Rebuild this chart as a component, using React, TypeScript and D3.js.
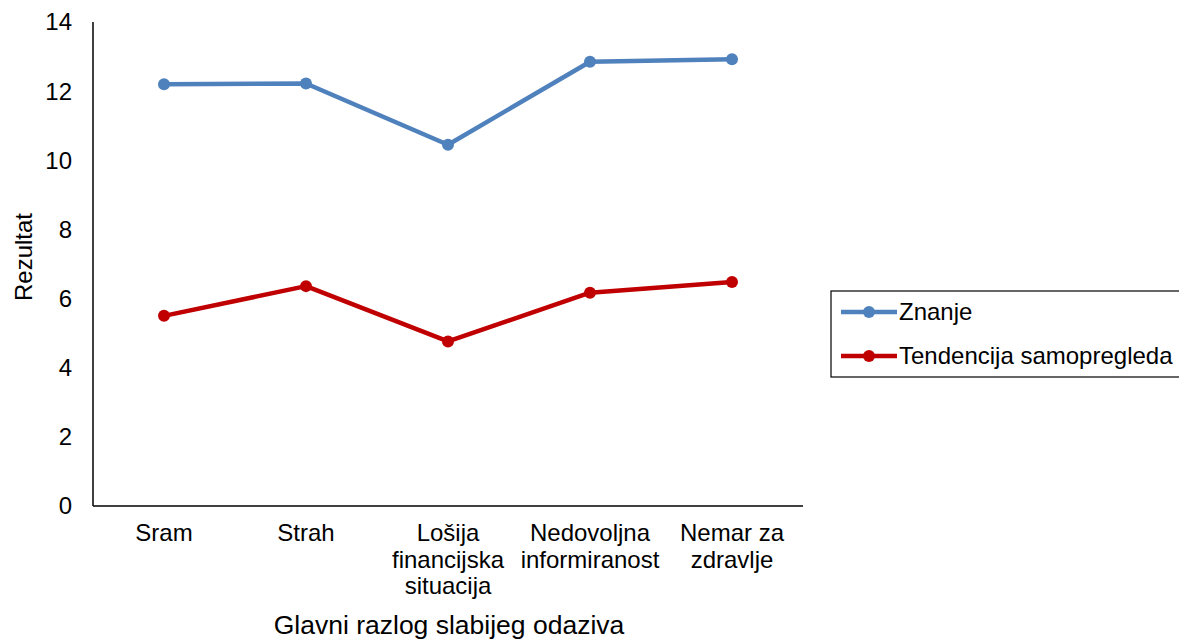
import { useEffect, useRef } from 'react';
import * as d3 from 'd3';

// chart data
const categories = ['Sram', 'Strah', 'Lošija financijska situacija', 'Nedovoljna informiranost', 'Nemar za zdravlje'];
const categoryLines = [['Sram'], ['Strah'], ['Lošija', 'financijska', 'situacija'], ['Nedovoljna', 'informiranost'], ['Nemar za', 'zdravlje']];
const znanje = [12.2, 12.22, 10.45, 12.85, 12.92];
const tendencija = [5.5, 6.36, 4.76, 6.17, 6.48];
const seriesNames = ['Znanje', 'Tendencija samopregleda'];
const seriesColors = ['#4F81BD', '#C00000'];
const yTicks = [0, 2, 4, 6, 8, 10, 12, 14];

const W = 1179;
const H = 639;

const App = () => {
  const svgRef = useRef<SVGSVGElement>(null);

  useEffect(() => {
    if (!svgRef.current) return;
    const svg = d3.select(svgRef.current);
    svg.selectAll('*').remove();

    const font = '"Liberation Sans", Arial, sans-serif';
    const left = 93, right = 803, top = 22, bottom = 506;

    const x = d3.scaleBand<string>().domain(categories).range([left, right]);
    const y = d3.scaleLinear().domain([0, 14]).range([bottom, top]);
    const cx = (c: string) => (x(c) as number) + x.bandwidth() / 2;

    // axes lines
    svg.append('line')
      .attr('x1', left).attr('x2', left)
      .attr('y1', top).attr('y2', bottom)
      .attr('stroke', '#000').attr('stroke-width', 1.5);
    svg.append('line')
      .attr('x1', left).attr('x2', right)
      .attr('y1', bottom).attr('y2', bottom)
      .attr('stroke', '#000').attr('stroke-width', 1.5);

    // y tick labels
    svg.selectAll('.ytick')
      .data(yTicks)
      .enter()
      .append('text')
      .attr('x', 72)
      .attr('y', d => y(d))
      .attr('dy', '0.35em')
      .attr('text-anchor', 'end')
      .attr('font-family', font)
      .attr('font-size', '24px')
      .attr('fill', '#000')
      .text(d => d);

    // x category labels
    categories.forEach((c, i) => {
      const t = svg.append('text')
        .attr('text-anchor', 'middle')
        .attr('font-family', font)
        .attr('font-size', '24px')
        .attr('fill', '#000');
      categoryLines[i].forEach((line, j) => {
        t.append('tspan').attr('x', cx(c)).attr('y', 541 + j * 26.7).text(line);
      });
    });

    // axis titles
    svg.append('text')
      .attr('x', 449)
      .attr('y', 634)
      .attr('text-anchor', 'middle')
      .attr('font-family', font)
      .attr('font-size', '26.5px')
      .text('Glavni razlog slabijeg odaziva');

    svg.append('text')
      .attr('transform', `translate(32, 257) rotate(-90)`)
      .attr('text-anchor', 'middle')
      .attr('font-family', font)
      .attr('font-size', '24px')
      .text('Rezultat');

    // series
    const line = d3.line<number>()
      .x((_, i) => cx(categories[i]))
      .y(d => y(d));

    [znanje, tendencija].forEach((vals, si) => {
      svg.append('path')
        .attr('d', line(vals) as string)
        .attr('fill', 'none')
        .attr('stroke', seriesColors[si])
        .attr('stroke-width', 4.5)
        .attr('stroke-linejoin', 'round');
      svg.selectAll(`.pt${si}`)
        .data(vals)
        .enter()
        .append('circle')
        .attr('cx', (_, i) => cx(categories[i]))
        .attr('cy', d => y(d))
        .attr('r', 6)
        .attr('fill', seriesColors[si]);
    });

    // legend
    svg.append('rect')
      .attr('x', 831).attr('y', 291)
      .attr('width', 350).attr('height', 86)
      .attr('fill', '#fff')
      .attr('stroke', '#000').attr('stroke-width', 1.2);

    seriesNames.forEach((name, i) => {
      const ly = 312 + i * 44;
      svg.append('line')
        .attr('x1', 841).attr('x2', 897)
        .attr('y1', ly).attr('y2', ly)
        .attr('stroke', seriesColors[i]).attr('stroke-width', 4.5);
      svg.append('circle')
        .attr('cx', 869).attr('cy', ly).attr('r', 6)
        .attr('fill', seriesColors[i]);
      svg.append('text')
        .attr('x', 899).attr('y', ly)
        .attr('dy', '0.35em')
        .attr('font-family', font)
        .attr('font-size', '24px')
        .text(name);
    });
  }, []);

  return (
    <div style={{ position: 'absolute', left: 0, top: 0, width: W, height: H, background: '#fff' }}>
      <svg ref={svgRef} width={W} height={H} style={{ display: 'block' }} />
    </div>
  );
};

export default App;
